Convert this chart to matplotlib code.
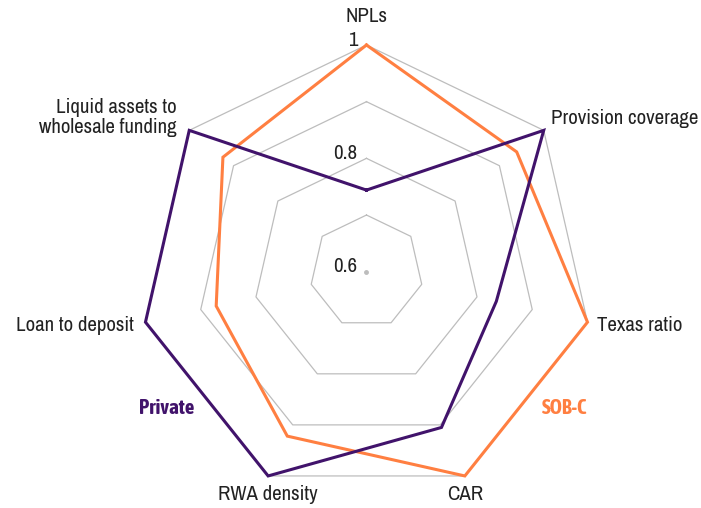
import numpy as np
import matplotlib
matplotlib.use('Agg')
import matplotlib.pyplot as plt
from matplotlib import font_manager

# prefer a narrow face if one is installed (and one with a bold weight for the series names)
fonts = font_manager.fontManager.ttflist
narrow = sorted({f.name for f in fonts if 'Narrow' in f.name or 'Condensed' in f.name})
narrow_bold = sorted({f.name for f in fonts
                      if f.name in narrow and f.weight in ('bold', 700, 'heavy', 800)})
plt.rcParams['font.family'] = narrow + ['Liberation Sans', 'DejaVu Sans']
bold_family = narrow_bold + ['Liberation Sans', 'DejaVu Sans']

categories = ['NPLs', 'Provision coverage', 'Texas ratio', 'CAR',
              'RWA density', 'Loan to deposit', 'Liquid assets to\nwholesale funding']
private = [0.744, 1.0, 0.835, 0.905, 1.0, 1.0, 1.0]
sobc = [1.0, 0.939, 1.0, 1.0, 0.922, 0.872, 0.924]
rings = [0.7, 0.8, 0.9, 1.0]
rtick_labels = {1.0: '1', 0.8: '0.8', 0.6: '0.6'}

purple = '#41136B'
orange = '#FF7F41'
grey = '#BDBDBD'

n = len(categories)
angles = np.linspace(0, 2 * np.pi, n, endpoint=False)
closed = np.append(angles, angles[0])

fig = plt.figure(figsize=(7.01, 5.08), dpi=100)
ax = fig.add_axes([0.1994, 0.0189, 0.6468, 0.8925], projection='polar')
ax.set_theta_offset(np.pi / 2)
ax.set_theta_direction(-1)
ax.set_ylim(0.6, 1.0)
ax.grid(False)
ax.spines['polar'].set_visible(False)
ax.set_xticks([])
ax.set_yticks([])
ax.patch.set_alpha(0)

# polygon grid
for r in rings:
    ax.plot(closed, [r] * (n + 1), color=grey, lw=0.9, zorder=1)
ax.plot([0], [0.6], 'o', color=grey, ms=2.5, zorder=1)

ax.plot(closed, private + private[:1], color=purple, lw=2.2, zorder=3,
        solid_joinstyle='miter', clip_on=False)
ax.plot(closed, sobc + sobc[:1], color=orange, lw=2.2, zorder=2,
        solid_joinstyle='miter', clip_on=False)

fs = 15 if narrow else 11.5

# category labels (offsets in pixels from outer vertex)
offsets = [(0, 29, 'center'), (7, 12, 'left'), (10, -3, 'left'), (0, -19, 'center'),
           (0, -19, 'center'), (-12, -3, 'right'), (-13, 13, 'right')]
for ang, lab, (dx, dy, ha) in zip(angles, categories, offsets):
    ax.annotate(lab, xy=(ang, 1.0), xytext=(dx, dy), textcoords='offset pixels',
                ha=ha, va='center', fontsize=fs, color='#222222',
                linespacing=1.05, annotation_clip=False)

# radial labels
for r, lab in rtick_labels.items():
    ax.annotate(lab, xy=(0, r), xytext=(-9, 5), textcoords='offset pixels',
                ha='right', va='center', fontsize=fs, color='#222222',
                annotation_clip=False)

fig.text(166.5 / 701, 1 - 408 / 508, 'Private', color=purple, fontsize=fs,
         fontweight='bold', family=bold_family, ha='center', va='center')
fig.text(564.5 / 701, 1 - 408 / 508, 'SOB-C', color=orange, fontsize=fs,
         fontweight='bold', family=bold_family, ha='center', va='center')

fig.savefig('out.png', dpi=100, facecolor='white')
